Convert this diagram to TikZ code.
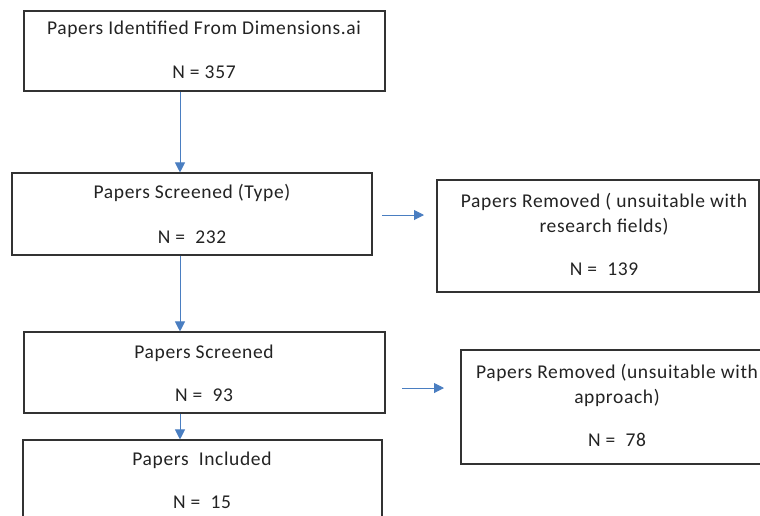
\documentclass[tikz,border=0pt]{standalone}
\usepackage{fontspec}
\setmainfont{Carlito}[LetterSpace=3.3]
\usetikzlibrary{arrows.meta}
\definecolor{arrowblue}{RGB}{74,126,193}
\definecolor{boxgray}{RGB}{50,50,50}
\definecolor{txtgray}{RGB}{35,35,35}
\tikzset{
  boxnode/.style={draw=boxgray, line width=1.1pt, rectangle, inner sep=0pt},
  lbl/.style={text=txtgray, inner sep=0pt, font=\fontsize{19.5}{24}\selectfont, align=center},
  flow/.style={draw=arrowblue, line width=1pt, -{Triangle[width=10pt,length=10pt]}}
}
\begin{document}
\begin{tikzpicture}[x=1pt,y=-1pt]
\useasboundingbox (0,0) rectangle (760,515);
\clip (0,0) rectangle (760,515);
\fill[white] (0,0) rectangle (760,515);
% boxes
\node[boxnode, minimum width=361pt, minimum height=80pt] (b1) at (204.5,51) {};
\node[boxnode, minimum width=360pt, minimum height=82pt] (b2) at (192,214) {};
\node[boxnode, minimum width=361pt, minimum height=81pt] (b3) at (204.5,372.5) {};
\node[boxnode, minimum width=359pt, minimum height=90pt] (b4) at (202.5,485) {};
\node[boxnode, minimum width=322pt, minimum height=112pt] (b5) at (598,236) {};
\node[boxnode, minimum width=303pt, minimum height=114pt] (b6) at (612.5,407) {};
% texts
\node[lbl] (t1a) at (204,29) {Papers Identified From Dimensions.ai};
\node[lbl] (t1b) at (204,72) {N = 357};
\node[lbl] (t2a) at (192,193) {Papers Screened (Type)};
\node[lbl] (t2b) at (192,237) {N =\ \ 232};
\node[lbl] (t3a) at (204,353) {Papers Screened};
\node[lbl] (t3b) at (204,395) {N =\ \ 93};
\node[lbl] (t4a) at (202,460) {Papers\ \ Included};
\node[lbl] (t4b) at (202,502) {N =\ \ 15};
\node[lbl] (t5a) at (604,202) {Papers Removed ( unsuitable with};
\node[lbl] (t5b) at (604,227) {research fields)};
\node[lbl] (t5c) at (604,269) {N =\ \ 139};
\node[lbl] (t6a) at (617,373) {Papers Removed (unsuitable with};
\node[lbl] (t6b) at (617,398) {approach)};
\node[lbl] (t6c) at (617,440) {N =\ \ 78};
% connectors
\draw[flow] (b1.south -| 180,0) -- (b2.north -| 180,0);
\draw[flow] (b2.south -| 180,0) -- (b3.north -| 180,0);
\draw[flow] (b3.south -| 180,0) -- (b4.north -| 180,0);
\coordinate (r1s) at (382,215);
\coordinate (r1e) at (424,215);
\coordinate (r2s) at (402,388);
\coordinate (r2e) at (444,388);
\draw[flow] (r1s) -- (r1e);
\draw[flow] (r2s) -- (r2e);
\end{tikzpicture}
\end{document}
